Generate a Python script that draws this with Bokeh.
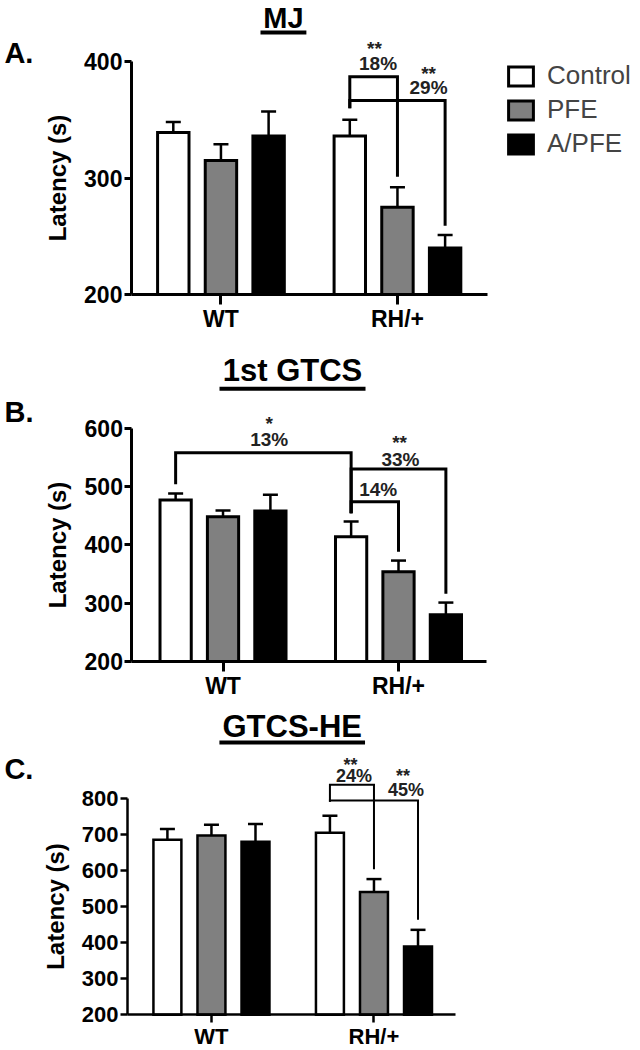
from bokeh.plotting import figure
from bokeh.layouts import column
from bokeh.models import (ColumnDataSource, Whisker, TeeHead, Legend, LegendItem,
                          FixedTicker, Range1d)
from bokeh.core.properties import value
from bokeh.embed import file_html
from bokeh.resources import INLINE

FONT = "Liberation Sans"

groups = ["WT", "RH/+"]
series = ["Control", "PFE", "A/PFE"]
fills = ["white", "#808080", "black"]

# Panel A: MJ latency (s)
mj_control = [339, 336]
mj_control_err = [9, 14]
mj_pfe = [315, 275]
mj_pfe_err = [14, 17]
mj_apfe = [336, 240]
mj_apfe_err = [21, 11]

# Panel B: 1st GTCS latency (s)
gtcs_control = [477, 414]
gtcs_control_err = [11, 26]
gtcs_pfe = [448, 354]
gtcs_pfe_err = [11, 19]
gtcs_apfe = [458, 280]
gtcs_apfe_err = [28, 21]

# Panel C: GTCS-HE latency (s)
he_control = [686, 706]
he_control_err = [30, 47]
he_pfe = [698, 541]
he_pfe_err = [30, 36]
he_apfe = [681, 390]
he_apfe_err = [49, 46]

# significance brackets: (group_a, series_a, group_b, series_b, y_top, y_leg_a_end, y_leg_b_end)
mj_brackets = [(1, 0, 1, 1, 387, 360, 301), (1, 0, 1, 2, 366.5, 360, 259)]
gtcs_brackets = [(0, 0, 1, 0, 558, 504, 454), (1, 0, 1, 2, 530, 454, 316),
                 (1, 0, 1, 1, 474, 454, 388)]
he_brackets = [(1, 0, 1, 1, 839, 792, 604), (1, 0, 1, 2, 795, 792, 464)]

# significance texts: (text, x, y)
mj_sig = [("**", 0.870, 411.2), ("18%", 0.890, 397.9),
          ("**", 1.176, 389.7), ("29%", 1.176, 378.1)]
gtcs_sig = [("*", 0.263, 607.9), ("13%", 0.263, 580.2),
            ("**", 1.006, 574.9), ("33%", 1.011, 546.8),
            ("14%", 0.884, 495.4)]
he_sig = [("**", 0.855, 895.3), ("24%", 0.877, 862.0),
          ("**", 1.178, 863.4), ("45%", 1.197, 823.1)]


def make_panel(title, letter, means, errs, brackets, sig, cfg, legend=False):
    p = figure(width=640, height=cfg["height"], output_backend="svg",
               toolbar_location=None, tools="",
               x_range=Range1d(cfg["x0"], cfg["x1"]),
               y_range=Range1d(cfg["y0"], cfg["y1"]))
    p.min_border = 0
    p.outline_line_color = None
    p.xgrid.visible = False
    p.ygrid.visible = False
    p.background_fill_color = "white"
    p.border_fill_color = "white"

    off = cfg["off"]
    lw = cfg["lw"]
    renderers = []
    for j, s in enumerate(series):
        xs = [g + (j - 1) * off for g in range(len(groups))]
        src = ColumnDataSource(dict(x=xs, top=means[j],
                                    upper=[m + e for m, e in zip(means[j], errs[j])]))
        r = p.vbar(x="x", top="top", bottom=200, width=cfg["bw"], source=src,
                   fill_color=fills[j], line_color="black", line_width=lw,
                   line_join="miter")
        renderers.append(r)
        w = Whisker(base="x", lower="top", upper="upper", source=src,
                    dimension="height", line_width=cfg["elw"], line_color="black",
                    upper_head=TeeHead(size=cfg["cap"], line_width=cfg["elw"],
                                       line_color="black"),
                    lower_head=None)
        p.add_layout(w)

    for (ga, sa, gb, sb, ytop, ya, yb) in brackets:
        xa = ga + (sa - 1) * off
        xb = gb + (sb - 1) * off
        p.line([xa, xa, xb, xb], [ya, ytop, ytop, yb], line_color="black",
               line_width=cfg["blw"], line_join="miter")

    p.text(x=[t[1] for t in sig], y=[t[2] for t in sig], text=[t[0] for t in sig],
           text_font=value(FONT), text_font_style="bold",
           text_font_size=cfg["sigsize"], text_align="center",
           text_baseline="middle", text_color="#222222")

    # panel title with underline
    tx, ty, ux0, ux1, uy = cfg["title"]
    p.text(x=[tx], y=[ty], text=[title], text_font=value(FONT),
           text_font_style="bold", text_font_size=cfg["titlesize"],
           text_align="center", text_baseline="middle", text_color="black")
    p.line([ux0, ux1], [uy, uy], line_color="black", line_width=4)

    # panel letter
    lx, ly = cfg["letter"]
    p.text(x=[lx], y=[ly], text=[letter], text_font=value(FONT),
           text_font_style="bold", text_font_size="29px", text_align="left",
           text_baseline="middle", text_color="black")

    ymax = cfg["ymax"]
    p.yaxis.fixed_location = cfg["yaxis_x"]
    p.yaxis.ticker = FixedTicker(ticks=list(range(200, ymax + 1, 100)))
    p.yaxis.bounds = (200, ymax)
    p.yaxis.axis_label = "Latency (s)"
    p.yaxis.axis_label_text_font = FONT
    p.yaxis.axis_label_text_font_style = "bold"
    p.yaxis.axis_label_text_font_size = "24px"
    p.yaxis.axis_label_standoff = 10
    p.yaxis.major_label_text_font = FONT
    p.yaxis.major_label_text_font_style = "bold"
    p.yaxis.major_label_text_font_size = cfg["ticksize"]
    p.yaxis.major_label_standoff = 2
    p.yaxis.major_tick_out = 7
    p.yaxis.major_tick_in = 0
    p.yaxis.minor_tick_out = 0
    p.yaxis.minor_tick_in = 0

    p.xaxis.fixed_location = 200
    p.xaxis.ticker = FixedTicker(ticks=list(range(len(groups))))
    p.xaxis.major_label_overrides = {i: g for i, g in enumerate(groups)}
    p.xaxis.bounds = (cfg["yaxis_x"], cfg["xb"])
    p.xaxis.major_label_text_font = FONT
    p.xaxis.major_label_text_font_style = "bold"
    p.xaxis.major_label_text_font_size = cfg["xlabsize"]
    p.xaxis.major_label_standoff = cfg["xstand"]
    p.xaxis.major_tick_out = cfg["xtick"]
    p.xaxis.major_tick_in = 0
    p.xaxis.minor_tick_out = 0
    p.xaxis.minor_tick_in = 0

    for ax in (p.xaxis, p.yaxis):
        ax.axis_line_width = cfg["alw"]
        ax.major_tick_line_width = cfg["alw"]
        ax.axis_line_color = "black"
        ax.major_label_text_color = "black"
        ax.axis_label_text_color = "black"

    if legend:
        lg = Legend(items=[LegendItem(label=s, renderers=[r])
                           for s, r in zip(series, renderers)],
                    location=(505, 176), glyph_width=31, glyph_height=24,
                    label_standoff=11, spacing=3, padding=0, margin=0,
                    label_text_font=FONT, label_text_font_size="26px",
                    background_fill_alpha=0, border_line_alpha=0)
        p.add_layout(lg)
    return p


cfgA = dict(height=335, x0=-1.249, x1=2.377, y0=164.8, y1=452.4, yaxis_x=-0.507,
            xb=1.51, ymax=400, off=0.27, bw=0.178, lw=3, elw=2.5, cap=15,
            blw=3, sigsize="19px", ticksize="23px", alw=3, xtick=10,
            xlabsize="23px", xstand=2, titlesize="29px",
            title=(0.354, 437.8, 0.224, 0.484, 424.9), letter=(-1.227, 407.7))
cfgB = dict(height=365, x0=-1.268, x1=2.379, y0=133.1, y1=758.9, yaxis_x=-0.519,
            xb=1.5, ymax=600, off=0.27, bw=0.178, lw=3, elw=2.5, cap=15,
            blw=3, sigsize="19px", ticksize="23px", alw=3, xtick=10,
            xlabsize="23px", xstand=2, titlesize="31px",
            title=(0.396, 698.4, -0.02, 0.812, 667.5), letter=(-1.245, 627.2))
cfgC = dict(height=350, x0=-1.298, x1=2.640, y0=100.8, y1=1073.1, yaxis_x=-0.517,
            xb=1.502, ymax=800, off=0.271, bw=0.172, lw=2.5, elw=2.5, cap=15,
            blw=2, sigsize="18px", ticksize="22px", alw=2.5, xtick=8,
            xlabsize="22px", xstand=1, titlesize="31px",
            title=(0.497, 1000.8, 0.049, 0.945, 956.4), letter=(-1.274, 882.8))

pA = make_panel("MJ", "A.", [mj_control, mj_pfe, mj_apfe],
                [mj_control_err, mj_pfe_err, mj_apfe_err],
                mj_brackets, mj_sig, cfgA, legend=True)
pB = make_panel("1st GTCS", "B.", [gtcs_control, gtcs_pfe, gtcs_apfe],
                [gtcs_control_err, gtcs_pfe_err, gtcs_apfe_err],
                gtcs_brackets, gtcs_sig, cfgB)
pC = make_panel("GTCS-HE", "C.", [he_control, he_pfe, he_apfe],
                [he_control_err, he_pfe_err, he_apfe_err],
                he_brackets, he_sig, cfgC)

layout = column(pA, pB, pC, spacing=0)
open("out.html", "w").write(file_html(layout, INLINE))
